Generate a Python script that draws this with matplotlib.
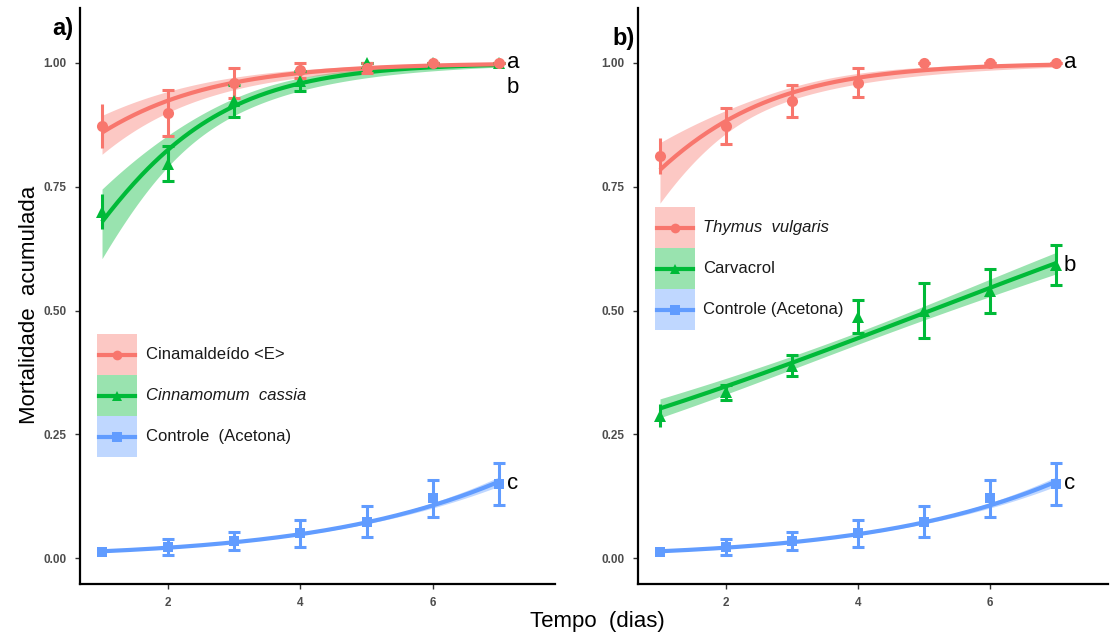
import numpy as np
import matplotlib
matplotlib.use("Agg")
import matplotlib.pyplot as plt
from matplotlib.patches import Rectangle
from matplotlib.lines import Line2D

plt.rcParams['font.family'] = ['Liberation Sans', 'DejaVu Sans']

# ---- observed data: mean cumulative mortality and error per day ----
dias = [1, 2, 3, 4, 5, 6, 7]

cinamaldeido_mean = [0.873, 0.899, 0.960, 0.985, 0.990, 1.000, 1.000]
cinamaldeido_err = [0.044, 0.047, 0.030, 0.015, 0.010, 0.000, 0.000]

cassia_mean = [0.700, 0.797, 0.923, 0.964, 1.000, 1.000, 1.000]
cassia_err = [0.035, 0.035, 0.032, 0.020, 0.000, 0.000, 0.000]

thymus_mean = [0.812, 0.873, 0.923, 0.960, 1.000, 1.000, 1.000]
thymus_err = [0.037, 0.036, 0.032, 0.029, 0.000, 0.000, 0.000]

carvacrol_mean = [0.288, 0.335, 0.389, 0.488, 0.500, 0.540, 0.592]
carvacrol_err = [0.023, 0.015, 0.022, 0.033, 0.056, 0.045, 0.040]

controle_mean = [0.012, 0.023, 0.035, 0.050, 0.074, 0.121, 0.150]
controle_err = [0.000, 0.016, 0.019, 0.027, 0.032, 0.037, 0.042]

# ---- binomial GLM fits (logit link): intercept, slope,
#      and 95% band half-width on the link scale (centre, spread, centre day)
fit_cinamaldeido = (1.12, 0.69, 0.30, 0.12, 2.0)
fit_cassia = (-0.05, 0.80, 0.20, 0.17, 2.5)
fit_thymus = (0.56, 0.73, 0.20, 0.20, 2.5)
fit_carvacrol = (-1.04, 0.204, 0.05, 0.025, 4.0)
fit_controle = (-4.675, 0.425, 0.04, 0.02, 4.0)

RED, GREEN, BLUE = "#F8766D", "#00BA38", "#619CFF"
TICK_GREY = "#4D4D4D"


def expit(z):
    return 1.0 / (1.0 + np.exp(-z))


def draw_series(ax, mean, err, fit, color, marker, ms):
    b0, b1, hw0, hws, xc = fit
    xs = np.linspace(min(dias), max(dias), 200)
    eta = b0 + b1 * xs
    hw = np.sqrt(hw0 ** 2 + (hws * (xs - xc)) ** 2)
    ax.fill_between(xs, expit(eta - hw), expit(eta + hw), color=color,
                    alpha=0.4, linewidth=0, zorder=1)
    ax.plot(xs, expit(eta), color=color, lw=3.0, zorder=2,
            solid_capstyle='butt')
    # first day drawn without caps, the rest with caps
    ax.errorbar(dias[:1], mean[:1], yerr=err[:1], fmt='none', ecolor=color,
                elinewidth=2.2, capsize=0, zorder=3)
    ax.errorbar(dias[1:], mean[1:], yerr=err[1:], fmt='none', ecolor=color,
                elinewidth=2.2, capsize=4.5, capthick=2.2, zorder=3)
    ax.plot(dias, mean, linestyle='none', marker=marker, ms=ms,
            color=color, markeredgewidth=0, zorder=4)


def draw_legend(ax, x0, y_top, entries):
    bw, bh = 0.085, 0.0712
    for i, (label, color, marker, style) in enumerate(entries):
        yb = y_top - (i + 1) * bh
        ax.add_patch(Rectangle((x0, yb), bw, bh, transform=ax.transAxes,
                               facecolor=color, alpha=0.4, linewidth=0,
                               clip_on=False, zorder=5))
        ym = yb + bh / 2
        ax.add_line(Line2D([x0 + 0.005, x0 + bw - 0.005], [ym, ym],
                           transform=ax.transAxes, color=color, lw=3.0,
                           clip_on=False, zorder=6))
        ax.plot([x0 + bw / 2], [ym], transform=ax.transAxes, marker=marker,
                ms=7, color=color, markeredgewidth=0, clip_on=False, zorder=7)
        ax.text(x0 + bw + 0.018, ym, label, transform=ax.transAxes,
                fontsize=12, style=style, va='center', ha='left',
                color='#1a1a1a')


fig = plt.figure(figsize=(11.1, 6.4), dpi=100)
ax_a = fig.add_axes([80 / 1110, 56 / 640, 475 / 1110, 576 / 640])
ax_b = fig.add_axes([638 / 1110, 56 / 640, 470 / 1110, 576 / 640])

for ax in (ax_a, ax_b):
    for side in ('top', 'right'):
        ax.spines[side].set_visible(False)
    for side in ('left', 'bottom'):
        ax.spines[side].set_linewidth(1.6)
        ax.spines[side].set_color('black')
    ax.set_ylim(-0.052, 1.111)
    ax.set_yticks([0.0, 0.25, 0.50, 0.75, 1.00])
    ax.set_yticklabels(['0.00', '0.25', '0.50', '0.75', '1.00'])
    ax.set_xticks([2, 4, 6])
    ax.tick_params(axis='both', length=3.5, width=1.0, color='#333333',
                   labelsize=8.5, labelcolor=TICK_GREY, pad=6)
    for lab in ax.get_xticklabels() + ax.get_yticklabels():
        lab.set_fontweight('bold')
    ax.set_facecolor('white')

ax_a.set_xlim(0.667, 7.85)
ax_b.set_xlim(0.667, 7.79)

# panel a
draw_series(ax_a, controle_mean, controle_err, fit_controle, BLUE, 's', 7.5)
draw_series(ax_a, cassia_mean, cassia_err, fit_cassia, GREEN, '^', 9)
draw_series(ax_a, cinamaldeido_mean, cinamaldeido_err, fit_cinamaldeido, RED, 'o', 8)

# panel b
draw_series(ax_b, controle_mean, controle_err, fit_controle, BLUE, 's', 7.5)
draw_series(ax_b, carvacrol_mean, carvacrol_err, fit_carvacrol, GREEN, '^', 9)
draw_series(ax_b, thymus_mean, thymus_err, fit_thymus, RED, 'o', 8)

# significance letters
for ax, items in ((ax_a, [('a', 1.0), ('b', 0.95), ('c', controle_mean[-1])]),
                  (ax_b, [('a', 1.0), ('b', carvacrol_mean[-1]), ('c', controle_mean[-1])])):
    for letter, yv in items:
        ax.text(7.12, yv, letter, fontsize=16, va='center', ha='left',
                color='black')

draw_legend(ax_a, 0.036, 0.434, [
    ('Cinamaldeído <E>', RED, 'o', 'normal'),
    ('Cinnamomum  cassia', GREEN, '^', 'italic'),
    ('Controle  (Acetona)', BLUE, 's', 'normal'),
])
draw_legend(ax_b, 0.036, 0.6545, [
    ('Thymus  vulgaris', RED, 'o', 'italic'),
    ('Carvacrol', GREEN, '^', 'normal'),
    ('Controle (Acetona)', BLUE, 's', 'normal'),
])

fig.text(63 / 1110, 1 - 29 / 640, 'a)', fontsize=17, fontweight='bold',
         ha='center', va='center')
fig.text(624 / 1110, 1 - 38 / 640, 'b)', fontsize=17, fontweight='bold',
         ha='center', va='center')

fig.text(30 / 1110, 1 - 305 / 640, 'Mortalidade  acumulada', fontsize=16,
         rotation=90, ha='center', va='center')
fig.text(597 / 1110, 1 - 622 / 640, 'Tempo  (dias)', fontsize=16,
         ha='center', va='center')

fig.savefig('out.png', dpi=100, facecolor='white')
